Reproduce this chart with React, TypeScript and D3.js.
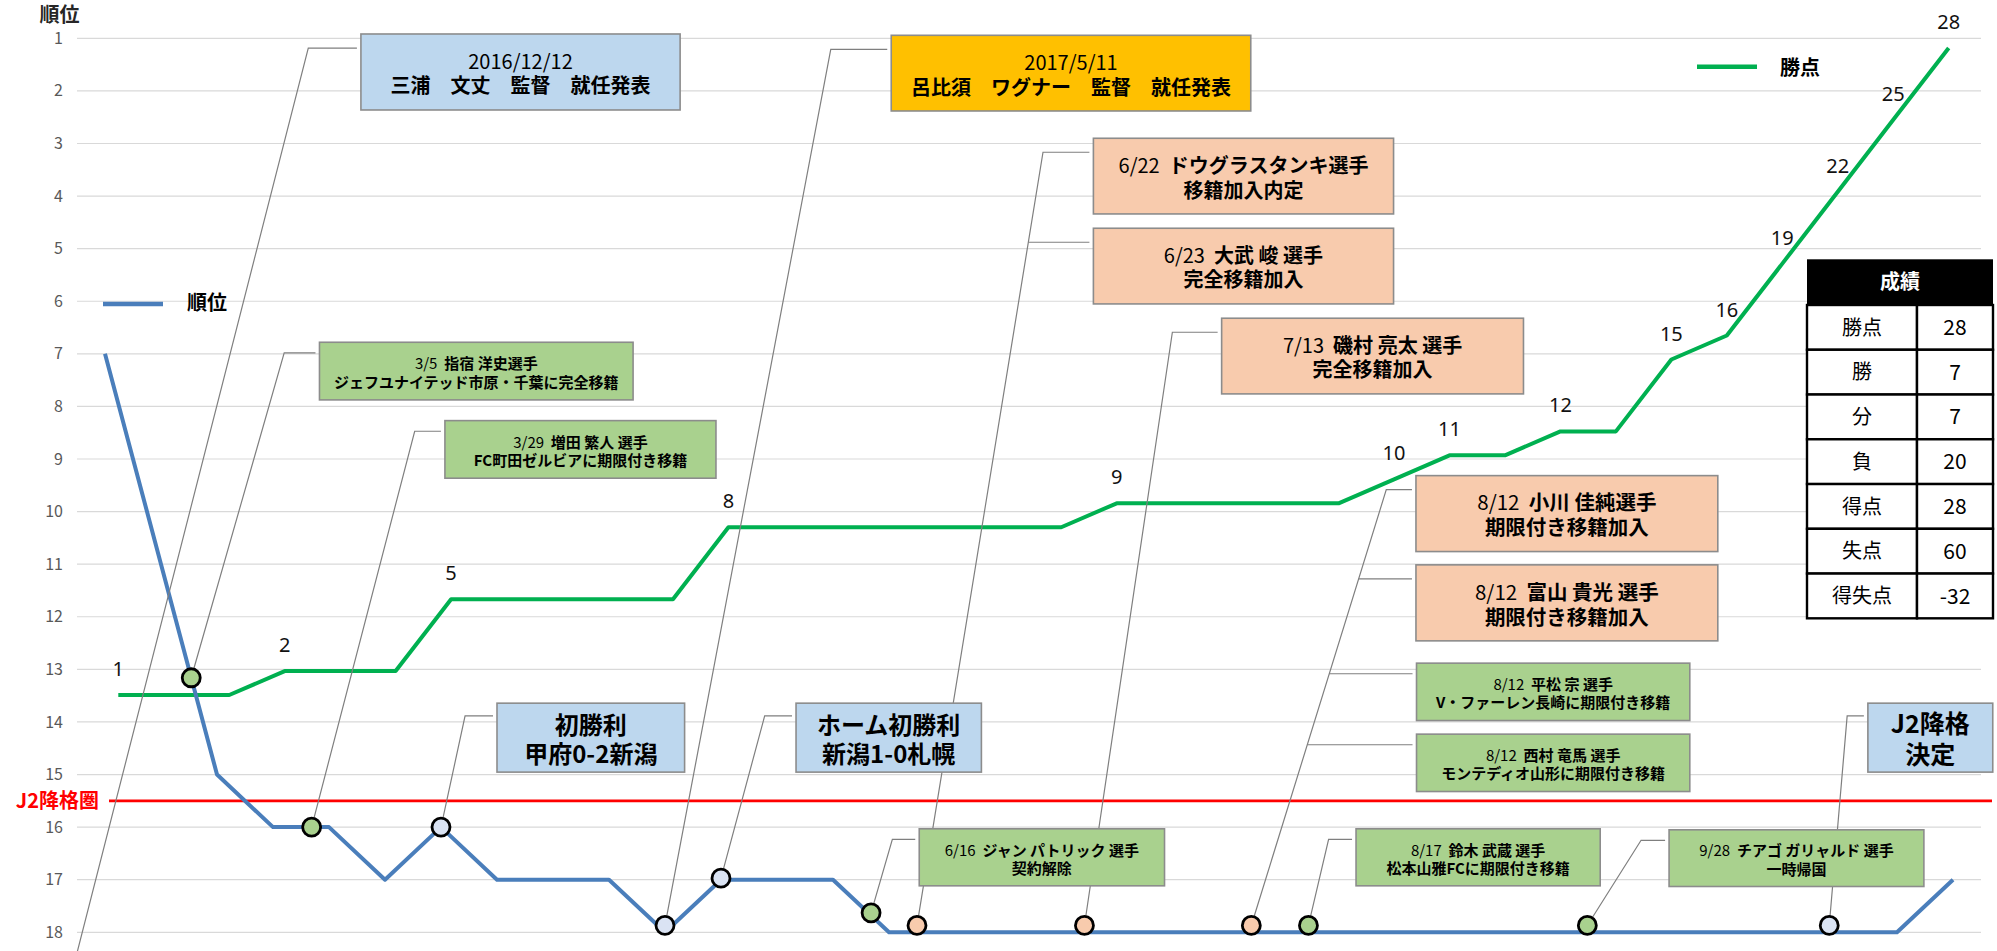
import React, { useEffect, useRef } from 'react'
import * as d3 from 'd3'

const W = 1997
const H = 951
const JP = '"Noto Sans CJK JP", "Noto Sans", sans-serif'

// 節 1..34
const matches = [1, 2, 3, 4, 5, 6, 7, 8, 9, 10, 11, 12, 13, 14, 15, 16, 17, 18, 19, 20, 21, 22, 23, 24, 25, 26, 27, 28, 29, 30, 31, 32, 33, 34]
// 順位
const rankValues = [7, 11, 15, 16, 16, 17, 16, 17, 17, 17, 18, 17, 17, 17, 18, 18, 18, 18, 18, 18, 18, 18, 18, 18, 18, 18, 18, 18, 18, 18, 18, 18, 18, 17]
// 勝点 (累計)
const pointValues = [1, 1, 1, 2, 2, 2, 5, 5, 5, 5, 5, 8, 8, 8, 8, 8, 8, 8, 9, 9, 9, 9, 9, 10, 11, 11, 12, 12, 15, 16, 19, 22, 25, 28]
const rankTicks = [1, 2, 3, 4, 5, 6, 7, 8, 9, 10, 11, 12, 13, 14, 15, 16, 17, 18]
const relegationRank = 15.5

// 出来事のマーカー (節の位置, 順位)
const markerPos = [0.33, 2.54, 4.69, 7, 11, 12, 14.68, 15.5, 18.49, 21.47, 22.49, 27.47, 31.79]
const markerRank = [19.1, 13.16, 16, 16, 17.87, 16.97, 17.63, 17.87, 17.87, 17.87, 17.87, 17.87, 17.87]
const markerKind = ['none', 'green', 'green', 'blue', 'blue', 'blue', 'green', 'peach', 'peach', 'peach', 'green', 'green', 'blue']

// 吹き出し
const noteLines = [
  ['2016/12/12', '三浦　文丈　監督　就任発表'],
  ['3/5  指宿 洋史選手', 'ジェフユナイテッド市原・千葉に完全移籍'],
  ['3/29  増田 繁人 選手', 'FC町田ゼルビアに期限付き移籍'],
  ['初勝利', '甲府0-2新潟'],
  ['2017/5/11', '呂比須　ワグナー　監督　就任発表'],
  ['ホーム初勝利', '新潟1-0札幌'],
  ['6/16  ジャン パトリック 選手', '契約解除'],
  ['6/22  ドウグラスタンキ選手', '移籍加入内定'],
  ['6/23  大武 峻 選手', '完全移籍加入'],
  ['7/13  磯村 亮太 選手', '完全移籍加入'],
  ['8/12  小川 佳純選手', '期限付き移籍加入'],
  ['8/12  富山 貴光 選手', '期限付き移籍加入'],
  ['8/12  平松 宗 選手', 'V・ファーレン長崎に期限付き移籍'],
  ['8/12  西村 竜馬 選手', 'モンテディオ山形に期限付き移籍'],
  ['8/17  鈴木 武蔵 選手', '松本山雅FCに期限付き移籍'],
  ['9/28  チアゴ ガリャルド 選手', '一時帰国'],
  ['J2降格', '決定'],
]
const noteMarker = [0, 1, 2, 3, 4, 5, 6, 7, 7, 8, 9, 9, 9, 9, 10, 11, 12]
const noteKind = ['blue', 'green', 'green', 'blue', 'orange', 'blue', 'green', 'peach', 'peach', 'peach', 'peach', 'peach', 'green', 'green', 'green', 'green', 'blue']

// 成績
const recordLabels = ['勝点', '勝', '分', '負', '得点', '失点', '得失点']
const recordValues = ['28', '7', '7', '20', '28', '60', '-32']

// layout of callouts in data units: [pos0, pos1, rank0, rank1, elbowPos | null]
const noteBoxes: [number, number, number, number, number | null][] = [
  [5.57, 11.27, 0.918, 2.363, 4.63],
  [4.83, 10.43, 6.78, 7.876, 4.2],
  [7.07, 11.91, 8.27, 9.365, 6.53],
  [8.0, 11.35, 13.643, 14.954, 7.43],
  [15.04, 21.46, 0.943, 2.382, 13.96],
  [13.34, 16.65, 13.643, 14.954, 12.78],
  [15.54, 19.92, 16.032, 17.116, 15.06],
  [18.65, 24.01, 2.901, 4.34, 17.75],
  [18.65, 24.01, 4.612, 6.051, null],
  [20.94, 26.33, 6.323, 7.762, 20.06],
  [24.41, 29.8, 9.316, 10.76, 23.88],
  [24.41, 29.8, 11.013, 12.458, null],
  [24.42, 29.3, 12.882, 13.973, null],
  [24.42, 29.3, 14.232, 15.323, null],
  [23.34, 27.7, 16.032, 17.116, 22.85],
  [28.93, 33.48, 16.051, 17.129, 28.43],
  [32.48, 34.71, 13.643, 14.954, 32.11],
]
const noteFont = [20, 15, 15, 24, 20, 24, 15, 20, 20, 20, 20.5, 20.5, 15, 15, 15, 15, 25]

const boxFill: Record<string, string> = { blue: '#bdd7ee', green: '#a9d18e', peach: '#f8cbad', orange: '#ffc000' }
const dotFill: Record<string, string> = { blue: '#dae3f3', green: '#a9d18e', peach: '#f8cbad' }

export default function App() {
  const ref = useRef<SVGSVGElement>(null)

  useEffect(() => {
    if (!ref.current) return
    const svg = d3.select(ref.current)
    svg.selectAll('*').remove()

    const x = d3.scaleLinear().domain([0.5, 34.5]).range([77, 1981])
    const xPts = d3.scaleLinear().domain([1, 34]).range([118.3, 1948.7])
    const y = d3.scaleLinear().domain([1, 18]).range([38.3, 932.3])
    const yPts = d3.scaleLinear().domain([0, 30]).range([719, 0])

    svg.append('rect').attr('width', W).attr('height', H).attr('fill', '#fff')

    // grid
    svg.append('g').selectAll('line').data(rankTicks).enter().append('line')
      .attr('x1', x(0.5)).attr('x2', x(34.5))
      .attr('y1', d => y(d)).attr('y2', d => y(d))
      .attr('stroke', '#d9d9d9').attr('stroke-width', 1.2)

    svg.append('g').selectAll('text').data(rankTicks).enter().append('text')
      .attr('x', x(0.5) - 14).attr('y', d => y(d)).attr('dy', '0.35em')
      .attr('text-anchor', 'end').attr('font-family', JP).attr('font-size', 16)
      .attr('fill', '#595959').text(d => d)

    svg.append('text').attr('x', 59.5).attr('y', 15).attr('dy', '0.35em')
      .attr('text-anchor', 'middle').attr('font-family', JP).attr('font-size', 20)
      .attr('font-weight', 700).attr('fill', '#262626').text('順位')

    // J2 降格圏
    svg.append('line').attr('x1', x(0.5) + 32).attr('x2', x(34.5) + 11)
      .attr('y1', y(relegationRank)).attr('y2', y(relegationRank))
      .attr('stroke', '#ff0000').attr('stroke-width', 2.6)
    svg.append('text').attr('x', 99).attr('y', y(relegationRank)).attr('dy', '0.35em')
      .attr('text-anchor', 'end').attr('font-family', JP).attr('font-size', 20)
      .attr('font-weight', 700).attr('fill', '#ff0000').text('J2降格圏')

    // 勝点
    const ptsLine = d3.line<number>().x((d, i) => xPts(matches[i])).y(d => yPts(d))
    svg.append('path').attr('d', ptsLine(pointValues)).attr('fill', 'none')
      .attr('stroke', '#00b050').attr('stroke-width', 4).attr('stroke-linejoin', 'round')
    const ptsLabels = pointValues.map((v, i) => ({ v, i })).filter(d => d.i === 0 || pointValues[d.i - 1] !== d.v)
    svg.append('g').selectAll('text').data(ptsLabels).enter().append('text')
      .attr('x', d => xPts(matches[d.i])).attr('y', d => yPts(d.v) - 26).attr('dy', '0.35em')
      .attr('text-anchor', 'middle').attr('font-family', '"Noto Sans", sans-serif')
      .attr('font-size', 20).attr('fill', '#111').text(d => d.v)

    // 順位
    const rankLine = d3.line<number>().x((d, i) => x(matches[i])).y(d => y(d))
    svg.append('path').attr('d', rankLine(rankValues)).attr('fill', 'none')
      .attr('stroke', '#4a7ebb').attr('stroke-width', 4).attr('stroke-linejoin', 'round')

    // callouts: leader lines, then markers, then boxes
    const conn = svg.append('g').attr('fill', 'none').attr('stroke', '#7f7f7f').attr('stroke-width', 1.2)
    const dots = svg.append('g')
    const boxes = svg.append('g')
    const primary: Record<number, { mx: number; my: number; ex: number; ey: number }> = {}
    noteLines.forEach((lines, n) => {
      const [p0, p1, r0, r1, em] = noteBoxes[n]
      const bx0 = x(p0), bx1 = x(p1), by0 = y(r0), by1 = y(r1)
      const ey = by0 + (by1 - by0) * 0.185
      const mi = noteMarker[n]
      const mx = x(markerPos[mi]), my = y(markerRank[mi])
      if (em !== null) {
        const ex = x(em)
        primary[mi] = { mx, my, ex, ey }
        conn.append('polyline').attr('points', `${mx},${my} ${ex},${ey} ${bx0 - 4},${ey}`)
      } else {
        const p = primary[mi]
        const t = (ey - p.my) / (p.ey - p.my)
        const bxl = p.mx + (p.ex - p.mx) * t
        conn.append('line').attr('x1', bxl).attr('y1', ey).attr('x2', bx0 - 4).attr('y2', ey)
      }

      const g = boxes.append('g')
      g.append('rect').attr('x', bx0).attr('y', by0).attr('width', bx1 - bx0).attr('height', by1 - by0)
        .attr('fill', boxFill[noteKind[n]]).attr('stroke', '#8c8c8c').attr('stroke-width', 1.6)
      const fs = noteFont[n]
      const lh = fs * 1.22
      const cx = (bx0 + bx1) / 2, cy = (by0 + by1) / 2 + 2
      lines.forEach((line, li) => {
        const t = g.append('text').attr('x', cx).attr('y', cy + (li - (lines.length - 1) / 2) * lh)
          .attr('dy', '0.36em').attr('text-anchor', 'middle').attr('font-family', JP)
          .attr('font-size', fs).attr('fill', '#000').style('white-space', 'pre')
        const m = line.match(/^(\d+\/\d+(?:\/\d+)?)(.*)$/)
        if (m) {
          t.append('tspan').attr('font-weight', 400).text(m[1])
          if (m[2]) t.append('tspan').attr('font-weight', 700).text(m[2])
        } else {
          t.attr('font-weight', 700).text(line)
        }
      })
    })

    const markerIdx = markerPos.map((_, i) => i).filter(i => markerKind[i] !== 'none')
    dots.selectAll('circle').data(markerIdx).enter().append('circle')
      .attr('cx', i => x(markerPos[i])).attr('cy', i => y(markerRank[i])).attr('r', 9)
      .attr('fill', i => dotFill[markerKind[i]]).attr('stroke', '#000').attr('stroke-width', 2.8)

    // legends
    svg.append('line').attr('x1', 103).attr('x2', 163).attr('y1', 304).attr('y2', 304)
      .attr('stroke', '#4a7ebb').attr('stroke-width', 4.5)
    svg.append('text').attr('x', 187).attr('y', 303).attr('dy', '0.35em').attr('font-family', JP)
      .attr('font-size', 20).attr('font-weight', 700).text('順位')
    svg.append('line').attr('x1', 1697).attr('x2', 1757).attr('y1', 66.7).attr('y2', 66.7)
      .attr('stroke', '#00b050').attr('stroke-width', 4.5)
    svg.append('text').attr('x', 1780).attr('y', 68).attr('dy', '0.35em').attr('font-family', JP)
      .attr('font-size', 20).attr('font-weight', 700).text('勝点')

    // 成績 table
    const tx0 = 1807, tx1 = 1993, tsplit = 1917, ty0 = 259.3, hh = 45.7, rh = 44.76
    const tb = svg.append('g')
    tb.append('rect').attr('x', tx0).attr('y', ty0).attr('width', tx1 - tx0).attr('height', hh).attr('fill', '#000')
    tb.append('text').attr('x', (tx0 + tx1) / 2).attr('y', ty0 + hh / 2).attr('dy', '0.36em')
      .attr('text-anchor', 'middle').attr('font-family', JP).attr('font-size', 20)
      .attr('font-weight', 700).attr('fill', '#fff').text('成績')
    recordLabels.forEach((lab, i) => {
      const ry = ty0 + hh + i * rh
      tb.append('rect').attr('x', tx0).attr('y', ry).attr('width', tsplit - tx0).attr('height', rh)
        .attr('fill', '#fff').attr('stroke', '#000').attr('stroke-width', 2.4)
      tb.append('rect').attr('x', tsplit).attr('y', ry).attr('width', tx1 - tsplit).attr('height', rh)
        .attr('fill', '#fff').attr('stroke', '#000').attr('stroke-width', 2.4)
      tb.append('text').attr('x', (tx0 + tsplit) / 2).attr('y', ry + rh / 2).attr('dy', '0.36em')
        .attr('text-anchor', 'middle').attr('font-family', JP).attr('font-size', 20).text(lab)
      tb.append('text').attr('x', (tsplit + tx1) / 2).attr('y', ry + rh / 2).attr('dy', '0.36em')
        .attr('text-anchor', 'middle').attr('font-family', JP).attr('font-size', 21).text(recordValues[i])
    })
  }, [])

  return (
    <svg ref={ref} width={W} height={H}
      style={{ position: 'absolute', left: 0, top: 0, display: 'block', background: '#fff' }} />
  )
}
